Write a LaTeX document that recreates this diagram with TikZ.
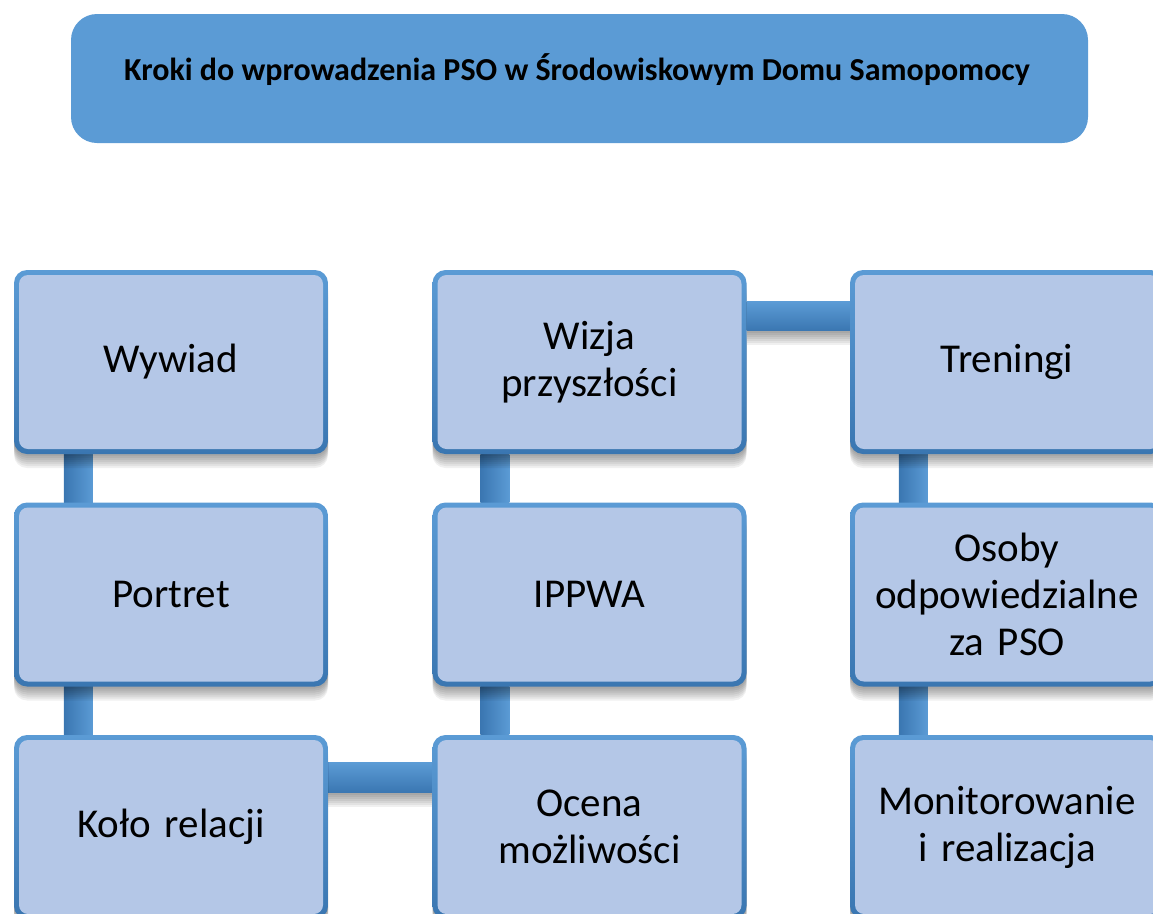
\documentclass[tikz,border=0pt]{standalone}
\usepackage{fontspec}
\setmainfont{Carlito}
\usetikzlibrary{shadows}
\pgfdeclarelayer{background}
\pgfsetlayers{background,main}
\definecolor{titleblue}{HTML}{5B9BD5}
\definecolor{lightblue}{HTML}{5B9BD5}
\definecolor{darkblue}{HTML}{3A76B1}
\definecolor{boxfill}{HTML}{B4C7E7}
\tikzset{
  softshadow/.style={
    drop shadow={shadow xshift=0pt, shadow yshift=-2pt, opacity=0.06, fill=black},
    drop shadow={shadow xshift=0pt, shadow yshift=-4pt, opacity=0.06, fill=black},
    drop shadow={shadow xshift=0pt, shadow yshift=-6pt, opacity=0.06, fill=black},
    drop shadow={shadow xshift=0pt, shadow yshift=-8pt, opacity=0.06, fill=black},
    drop shadow={shadow xshift=0pt, shadow yshift=-10pt, opacity=0.06, fill=black},
    drop shadow={shadow xshift=0pt, shadow yshift=-12pt, opacity=0.06, fill=black},
    drop shadow={shadow xshift=0pt, shadow yshift=-14pt, opacity=0.06, fill=black}},
  stepbox/.style={rounded corners=13pt, minimum width=314pt, minimum height=184pt,
    text width=300pt, align=center, inner sep=0pt,
    font=\fontsize{41}{47}\selectfont, text=black,
    top color=lightblue, bottom color=darkblue, softshadow,
    path picture={\fill[boxfill, rounded corners=9pt]
      ([shift={(5pt,-5pt)}]path picture bounding box.north west) rectangle
      ([shift={(-5pt,5pt)}]path picture bounding box.south east);}},
  titlebox/.style={rounded corners=26pt, fill=titleblue, minimum width=1017pt,
    minimum height=129pt, inner sep=0pt},
  vbar/.style={left color=darkblue, right color=lightblue},
  hbar/.style={top color=lightblue, bottom color=darkblue, softshadow}
}
\begin{document}
\begin{tikzpicture}[x=1pt,y=-1pt]
\useasboundingbox (0,0) rectangle (1153,913);
\clip (0,0) rectangle (1153,913);
\node[titlebox] (title) at (579.5,78.5) {};
\node[font=\fontsize{32}{38}\selectfont\bfseries, text=black] (titletext) at (577,70)
  {Kroki do wprowadzenia PSO w Środowiskowym Domu Samopomocy};
% left column
\node[stepbox] (l1) at (171,362) {Wywiad};
\node[stepbox] (l2) at (171,594.5) {Portret};
\node[stepbox] (l3) at (171,827) {Koło relacji};
% middle column
\node[stepbox] (m1) at (589.5,362) {Wizja\\przyszłości};
\node[stepbox] (m2) at (589.5,594.5) {IPPWA};
\node[stepbox] (m3) at (589.5,827) {Ocena\\możliwości};
% right column
\node[stepbox] (r1) at (1007,362) {Treningi};
\node[stepbox] (r2) at (1007,594.5) {Osoby\\odpowiedzialne\\za PSO};
\node[stepbox] (r3) at (1007,827) {Monitorowanie\\i realizacja};
\begin{pgfonlayer}{background}
\shade[vbar] ([xshift=50pt]l1.south west) rectangle ([xshift=79pt]l2.north west);
\shade[vbar] ([xshift=50pt]l2.south west) rectangle ([xshift=79pt]l3.north west);
\shade[vbar] ([xshift=48pt]m1.south west) rectangle ([xshift=77pt]m2.north west);
\shade[vbar] ([xshift=48pt]m2.south west) rectangle ([xshift=77pt]m3.north west);
\shade[vbar] ([xshift=49pt]r1.south west) rectangle ([xshift=78pt]r2.north west);
\shade[vbar] ([xshift=49pt]r2.south west) rectangle ([xshift=78pt]r3.north west);
\shade[hbar] ([yshift=-32pt]m1.north east) rectangle ([yshift=-61pt]r1.north west);
\shade[hbar] ([yshift=-28pt]l3.north east) rectangle ([yshift=-58pt]m3.north west);
\end{pgfonlayer}
\end{tikzpicture}
\end{document}
